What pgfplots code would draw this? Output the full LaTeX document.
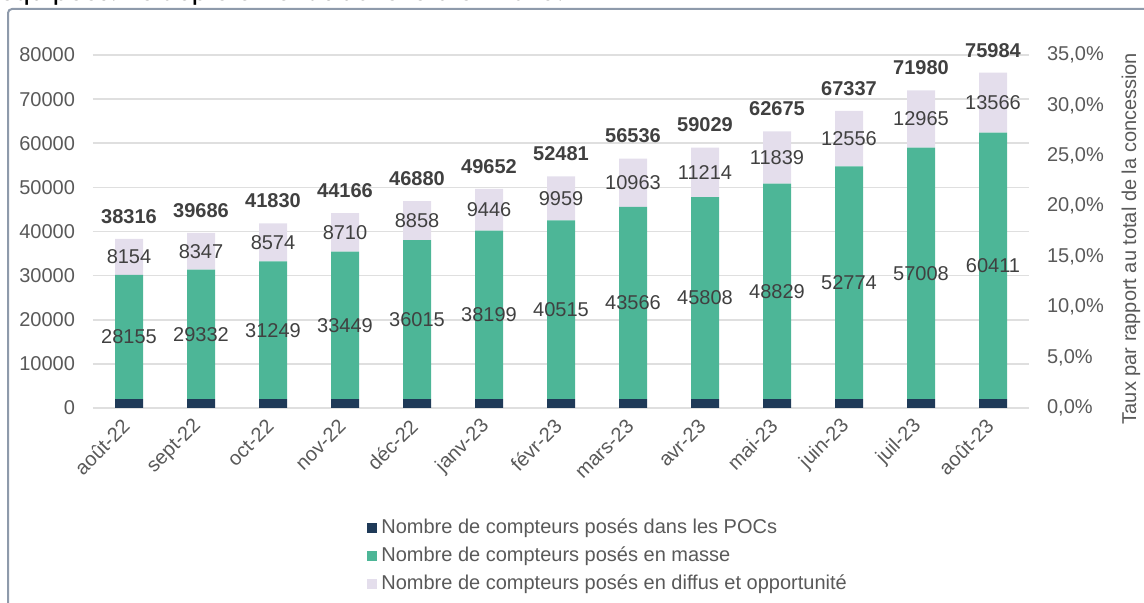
\documentclass[border=0pt]{standalone}
\usepackage{fontspec}
\setmainfont{Liberation Sans}
\newfontfamily\carlito{Carlito}
\usepackage{pgfplots}
\usepackage{pgfplotstable}
\pgfplotsset{compat=1.18}
\definecolor{pocnavy}{HTML}{1F3A58}
\definecolor{masseteal}{HTML}{4DB697}
\definecolor{diffuslav}{HTML}{E4DEEC}
\definecolor{txtgray}{HTML}{595959}
\definecolor{lblgray}{HTML}{404040}
\definecolor{gridgray}{HTML}{DFDFDF}
\definecolor{framecol}{HTML}{8E9AAB}

\pgfplotstableread{
x poc masse diffus total
0 2007 28155 8154 38316
1 2007 29332 8347 39686
2 2007 31249 8574 41830
3 2007 33449 8710 44166
4 2007 36015 8858 46880
5 2007 38199 9446 49652
6 2007 40515 9959 52481
7 2007 43566 10963 56536
8 2007 45808 11214 59029
9 2007 48829 11839 62675
10 2007 52774 12556 67337
11 2007 57008 12965 71980
12 2007 60411 13566 75984
}\data

\begin{document}
\begin{tikzpicture}[x=0.5pt,y=0.5pt]
\useasboundingbox (0,0) rectangle (1144,603);
% cropped sentence above the frame
\node[anchor=base west, inner sep=0pt, font=\carlito\fontsize{15}{18}\selectfont] at (-1,602) {équipées. Le déploiement s'achèvera en 2025.};
\draw[framecol, line width=1pt, rounded corners=2pt] (8,-20) -- (8,594) -- (1170,594);

\pgfplotsset{
  base/.style={
    scale only axis, width=468pt, height=176.5pt,
    at={(46.5pt,97.5pt)}, anchor=south west,
    xmin=-0.5, xmax=12.5,
  },
}

% bars
\begin{axis}[base,
  ybar stacked, bar width=14pt,
  ymin=0, ymax=80000,
  ytick={0,10000,...,80000},
  scaled y ticks=false,
  yticklabel style={/pgf/number format/1000 sep={}, xshift=-5.5pt},
  /pgf/number format/assume math mode=true,
  ymajorgrids, grid style={gridgray, line width=0.8pt},
  axis x line*=bottom, axis y line*=left, y axis line style={draw=none},
  x axis line style={gridgray, line width=0.8pt},
  xtick=data, major tick length=0pt,
  xticklabels={août-22,sept-22,oct-22,nov-22,déc-22,janv-23,févr-23,mars-23,avr-23,mai-23,juin-23,juil-23,août-23},
  xticklabel style={yshift=-5pt, xshift=1pt, anchor=east, rotate=45},
  tick label style={font=\fontsize{10}{12}\selectfont, text=txtgray},
  legend style={at={(axis description cs:0.2927,-0.302)}, anchor=north west,
    draw=none, fill=none, font=\fontsize{10}{13.5}\selectfont, text=txtgray,
    row sep=1.2pt, inner sep=0pt, cells={anchor=west}},
  legend cell align=left,
  legend image code/.code={\fill[#1] (0pt,-2.5pt) rectangle (5pt,2.5pt);},
]
\addplot[fill=pocnavy, draw=none] table[x=x, y=poc] {\data};
\addlegendentry{Nombre de compteurs posés dans les POCs}
\addplot[fill=masseteal, draw=none] table[x=x, y=masse] {\data};
\addlegendentry{Nombre de compteurs posés en masse}
\addplot[fill=diffuslav, draw=none] table[x=x, y=diffus] {\data};
\addlegendentry{Nombre de compteurs posés en diffus et opportunité}
\end{axis}

% data labels
\begin{axis}[base, hide axis, ymin=0, ymax=80000,
  nodes near coords, point meta=explicit symbolic,
  every node near coord/.style={anchor=center, font=\fontsize{10}{12}\selectfont, text=lblgray},
]
\addplot[only marks, mark=none] table[x=x, y expr=\thisrow{poc}+0.5*\thisrow{masse}, meta=masse] {\data};
\addplot[only marks, mark=none] table[x=x, y expr=\thisrow{poc}+\thisrow{masse}+0.5*\thisrow{diffus}, meta=diffus] {\data};
\addplot[only marks, mark=none, every node near coord/.append style={yshift=11.3pt, font=\fontsize{10}{12}\selectfont\bfseries}] table[x=x, y=total, meta=total] {\data};
\end{axis}

% right axis
\begin{axis}[base, ymin=0, ymax=35,
  axis x line=none, axis y line*=right, y axis line style={draw=none},
  ytick={0,5,...,35}, major tick length=0pt,
  yticklabels={{0,0\%},{5,0\%},{10,0\%},{15,0\%},{20,0\%},{25,0\%},{30,0\%},{35,0\%}},
  yticklabel style={xshift=5.5pt, font=\fontsize{10}{12}\selectfont, text=txtgray},
  ylabel={Taux par rapport au total de la concession},
  ylabel style={at={(axis description cs:1.109,0.48)}, anchor=center, rotate=0,
    font=\fontsize{10}{12}\selectfont, text=txtgray},
]
\end{axis}
\end{tikzpicture}
\end{document}
